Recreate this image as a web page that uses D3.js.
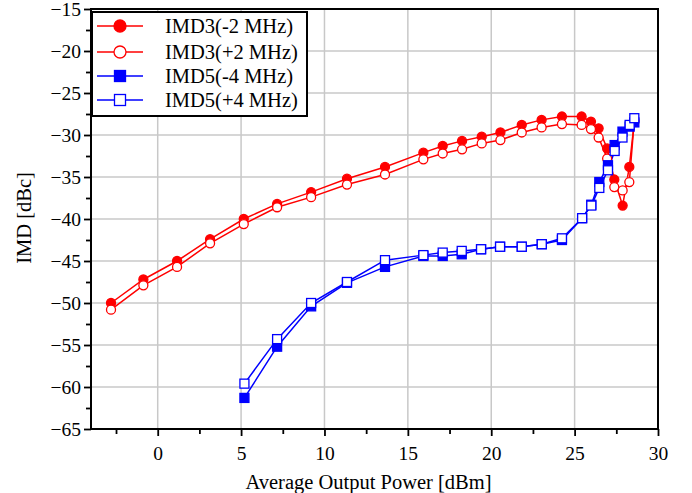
<!DOCTYPE html>
<html><head><meta charset="utf-8">
<script src="https://cdn.jsdelivr.net/npm/d3@7"></script>
<style>body{margin:0;background:#fff}svg{display:block}svg text{font-family:'Liberation Serif','Times New Roman',serif}</style>
</head><body>
<svg id="c" width="692" height="493"></svg>
<script>
const imd3X = [-2.8,-0.86,1.16,3.14,5.16,7.16,9.2,11.35,13.63,15.93,17.09,18.25,19.43,20.55,21.83,23.02,24.24,25.42,25.98,26.44,26.95,27.38,27.88,28.28,28.58];
const imd3Minus = [-50.0,-47.2,-45.0,-42.4,-40.0,-38.2,-36.8,-35.2,-33.8,-32.1,-31.3,-30.7,-30.2,-29.7,-28.8,-28.2,-27.8,-27.8,-28.4,-29.2,-31.6,-35.3,-38.4,-33.8,-28.4];
const imd3Plus  = [-50.8,-47.9,-45.7,-42.9,-40.6,-38.6,-37.4,-35.9,-34.7,-32.9,-32.2,-31.7,-31.0,-30.6,-29.7,-29.1,-28.7,-28.8,-29.3,-30.3,-32.8,-36.2,-36.6,-35.6,-28.2];
const imd5X = [5.2,7.16,9.2,11.35,13.63,15.93,17.09,18.23,19.39,20.53,21.83,23.03,24.24,25.45,26.0,26.48,27.0,27.4,27.87,28.3,28.58];
const imd5Minus = [-61.3,-55.2,-50.4,-47.6,-45.7,-44.4,-44.4,-44.2,-43.6,-43.3,-43.3,-43.0,-42.5,-39.9,-38.3,-35.6,-33.6,-31.2,-29.6,-29.0,-28.5];
const imd5Plus  = [-59.6,-54.3,-50.0,-47.5,-44.9,-44.3,-44.0,-43.8,-43.6,-43.3,-43.3,-43.0,-42.3,-39.9,-38.4,-36.3,-34.2,-31.9,-30.3,-28.8,-28.0];
const xTicks = [0,5,10,15,20,25,30];
const yTicks = [-65,-60,-55,-50,-45,-40,-35,-30,-25,-20,-15];
const seriesNames = ["IMD3(-2 MHz)","IMD3(+2 MHz)","IMD5(-4 MHz)","IMD5(+4 MHz)"];

const svg = d3.select("#c");
const L=91, R=658, T=9, B=429;
const x = d3.scaleLinear().domain([-4,30]).range([L,R]);
const y = d3.scaleLinear().domain([-65,-15]).range([B,T]);
const font = "'Liberation Serif','Times New Roman',serif";

// grid
const g = svg.append("g");
g.selectAll("line.gx").data(xTicks.filter(d=>d>-4&&d<30)).join("line")
  .attr("x1",d=>x(d)).attr("x2",d=>x(d)).attr("y1",T).attr("y2",B)
  .attr("stroke","#c8c8c8").attr("stroke-width",1.5);
g.selectAll("line.gy").data(yTicks.filter(d=>d>-65&&d<-15)).join("line")
  .attr("y1",d=>y(d)).attr("y2",d=>y(d)).attr("x1",L).attr("x2",R)
  .attr("stroke","#c8c8c8").attr("stroke-width",1.5);

// axes
const xMinor = d3.range(-2.5,30,2.5).filter(v=>v%5!==0);
const yMinor = d3.range(-62.5,-15,5);
const xAxis = d3.axisBottom(x).tickValues(xTicks).tickSize(7).tickPadding(10);
const yAxis = d3.axisLeft(y).tickValues(yTicks).tickSize(7).tickPadding(3);
const ax = svg.append("g").attr("transform",`translate(0,${B})`).call(xAxis);
const ay = svg.append("g").attr("transform",`translate(${L},0)`).call(yAxis);
svg.append("g").attr("transform",`translate(0,${B})`).call(d3.axisBottom(x).tickValues(xMinor).tickSize(5).tickFormat(""))
  .call(s=>s.select(".domain").remove()).selectAll("line").attr("stroke-width",1.8);
svg.append("g").attr("transform",`translate(${L},0)`).call(d3.axisLeft(y).tickValues(yMinor).tickSize(5).tickFormat(""))
  .call(s=>s.select(".domain").remove()).selectAll("line").attr("stroke-width",1.8);
[ax,ay].forEach(a=>{
  a.attr("font-family",font).attr("font-size",19.5);
  a.select(".domain").remove();
  a.selectAll("line").attr("stroke-width",1.8);
  a.selectAll("text").style("font-family",font).style("font-size","19.5px").attr("fill","#000");
});
svg.append("rect").attr("x",L).attr("y",T).attr("width",R-L).attr("height",B-T)
  .attr("fill","none").attr("stroke","#000").attr("stroke-width",2);

// titles
svg.append("text").attr("x",(L+R)/2-6).attr("y",489).attr("text-anchor","middle")
  .attr("font-family",font).attr("font-size",20.5).text("Average Output Power [dBm]");
svg.append("text").attr("transform",`translate(31,${218}) rotate(-90)`).attr("text-anchor","middle")
  .attr("font-family",font).attr("font-size",20.5).text("IMD [dBc]");

// series
const series = [
  {xs:imd3X, ys:imd3Minus, color:"#ff0000", shape:"circle", fill:true},
  {xs:imd3X, ys:imd3Plus, color:"#ff0000", shape:"circle", fill:false},
  {xs:imd5X, ys:imd5Minus, color:"#0000ff", shape:"square", fill:true},
  {xs:imd5X, ys:imd5Plus, color:"#0000ff", shape:"square", fill:false}
];
const line = d3.line().x(d=>x(d[0])).y(d=>y(d[1]));
const plot = svg.append("g");
function marker(sel, s, cx, cy, size){
  if(s.shape==="circle"){
    sel.append("circle").attr("cx",cx).attr("cy",cy).attr("r",size)
      .attr("fill",s.fill?s.color:"#fff").attr("stroke",s.color).attr("stroke-width",1.3);
  } else {
    sel.append("rect").attr("x",cx-size).attr("y",cy-size).attr("width",2*size).attr("height",2*size)
      .attr("fill",s.fill?s.color:"#fff").attr("stroke",s.color).attr("stroke-width",1.3);
  }
}
series.forEach(s=>{
  const pts = s.xs.map((v,i)=>[v,s.ys[i]]);
  plot.append("path").attr("d",line(pts)).attr("fill","none").attr("stroke",s.color).attr("stroke-width",1.5);
});
series.forEach(s=>{
  const pts = s.xs.map((v,i)=>[v,s.ys[i]]);
  pts.forEach(p=>marker(plot,s,x(p[0]),y(p[1]),4.5));
});

// legend
const lg = svg.append("g");
lg.append("rect").attr("x",L+1).attr("y",T+3).attr("width",215).attr("height",104)
  .attr("fill","#fff").attr("stroke","#000").attr("stroke-width",2);
const ly = [26,52,76,100];
series.forEach((s,i)=>{
  lg.append("line").attr("x1",97).attr("x2",143).attr("y1",ly[i]).attr("y2",ly[i])
    .attr("stroke",s.color).attr("stroke-width",1.5);
  marker(lg,s,120,ly[i],s.shape==="circle"?6:5.5);
  lg.append("text").attr("x",165).attr("y",ly[i]+6.5).attr("font-family",font).attr("font-size",20.5)
    .text(seriesNames[i]);
});
</script>
</body></html>
